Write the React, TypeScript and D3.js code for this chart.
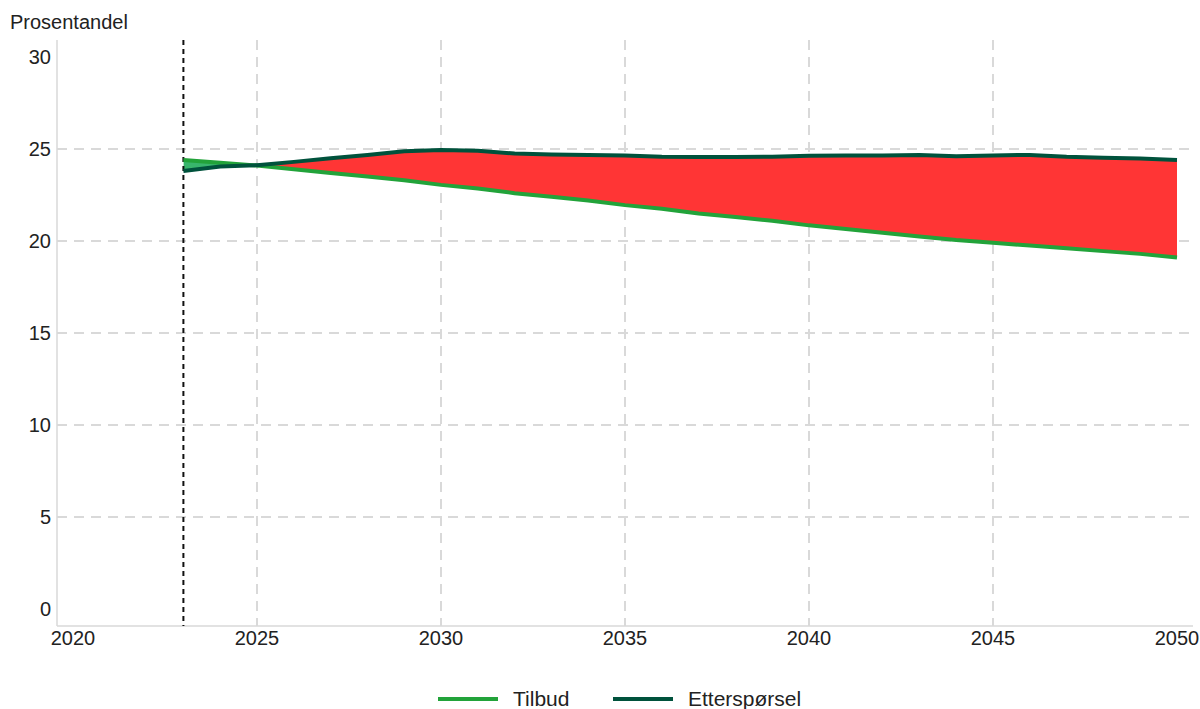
import React from "react";
import * as d3 from "d3";

const years = [2023, 2024, 2025, 2026, 2027, 2028, 2029, 2030, 2031, 2032, 2033, 2034, 2035, 2036, 2037, 2038, 2039, 2040, 2041, 2042, 2043, 2044, 2045, 2046, 2047, 2048, 2049, 2050];
const tilbud = [24.4, 24.25, 24.1, 23.9, 23.7, 23.5, 23.3, 23.05, 22.85, 22.6, 22.4, 22.2, 21.95, 21.75, 21.5, 21.3, 21.1, 20.85, 20.65, 20.45, 20.25, 20.05, 19.9, 19.75, 19.6, 19.45, 19.3, 19.1];
const ettersporsel = [23.8, 24.05, 24.12, 24.3, 24.5, 24.67, 24.88, 24.95, 24.9, 24.75, 24.7, 24.68, 24.65, 24.58, 24.57, 24.57, 24.58, 24.63, 24.65, 24.65, 24.68, 24.6, 24.65, 24.68, 24.58, 24.53, 24.48, 24.4];
const xTicks = [2020, 2025, 2030, 2035, 2040, 2045, 2050];
const yTicks = [0, 5, 10, 15, 20, 25, 30];
const xGrid = [2025, 2030, 2035, 2040, 2045];
const yGrid = [5, 10, 15, 20, 25];
const forecastStart = 2023;
const seriesNames = ["Tilbud", "Etterspørsel"];
const yTitle = "Prosentandel";

const W = 1200;
const H = 709;
const plotLeft = 57;
const plotRight = 1193;
const plotTop = 40;
const plotBottom = 626;

const C_SUPPLY = "#22a33a";
const C_DEMAND = "#00523c";
const C_RED = "#ff3535";
const C_GREENFILL = "#38b56c";
const C_GRID = "#d9d9d9";
const FONT = "'Liberation Sans', Arial, Helvetica, sans-serif";

export default function App() {
  const x = d3.scaleLinear().domain([2020, 2050]).range([73, 1177]);
  const y = d3.scaleLinear().domain([0, 30]).range([609, 57]);

  const data = years.map((yr, i) => ({ yr, s: tilbud[i], d: ettersporsel[i] }));

  const lineS = d3.line<any>().x((p) => x(p.yr)).y((p) => y(p.s))(data) || "";
  const lineD = d3.line<any>().x((p) => x(p.yr)).y((p) => y(p.d))(data) || "";

  const aboveSupply = d3.area<any>().x((p) => x(p.yr)).y0(0).y1((p) => y(p.s))(data) || "";
  const aboveDemand = d3.area<any>().x((p) => x(p.yr)).y0(0).y1((p) => y(p.d))(data) || "";
  const belowDemand = d3.area<any>().x((p) => x(p.yr)).y0(H).y1((p) => y(p.d))(data) || "";
  const belowSupply = d3.area<any>().x((p) => x(p.yr)).y0(H).y1((p) => y(p.s))(data) || "";

  return (
    <svg width={W} height={H} style={{ display: "block", position: "absolute", left: 0, top: 0 }} fontFamily={FONT}>
      <defs>
        <clipPath id="clipAboveSupply">
          <path d={aboveSupply} />
        </clipPath>
        <clipPath id="clipAboveDemand">
          <path d={aboveDemand} />
        </clipPath>
      </defs>
      <rect x={0} y={0} width={W} height={H} fill="#fff" />

      {yGrid.map((v) => (
        <line key={"yg" + v} x1={plotLeft} x2={plotRight} y1={y(v)} y2={y(v)} stroke={C_GRID} strokeWidth={2} strokeDasharray="10,7" />
      ))}
      {xGrid.map((v) => (
        <line key={"xg" + v} x1={x(v)} x2={x(v)} y1={plotTop} y2={plotBottom} stroke={C_GRID} strokeWidth={2} strokeDasharray="10,7" />
      ))}

      <line x1={plotLeft} x2={plotLeft} y1={plotTop} y2={plotBottom} stroke={C_GRID} strokeWidth={1.5} />
      <line x1={plotLeft} x2={plotRight} y1={plotBottom} y2={plotBottom} stroke={C_GRID} strokeWidth={1.5} />

      <path d={belowDemand} fill={C_RED} clipPath="url(#clipAboveSupply)" />
      <path d={belowSupply} fill={C_GREENFILL} clipPath="url(#clipAboveDemand)" />

      <line x1={x(forecastStart)} x2={x(forecastStart)} y1={plotTop} y2={plotBottom} stroke="#111" strokeWidth={2} strokeDasharray="5,4" />

      <path d={lineS} fill="none" stroke={C_SUPPLY} strokeWidth={4} />
      <path d={lineD} fill="none" stroke={C_DEMAND} strokeWidth={4} />

      {yTicks.map((v) => (
        <text key={"yt" + v} x={51} y={y(v)} dy="0.35em" textAnchor="end" fontSize={20} fill="#222">{v}</text>
      ))}
      {xTicks.map((v) => (
        <text key={"xt" + v} x={x(v)} y={645} textAnchor="middle" fontSize={20} fill="#222">{v}</text>
      ))}
      <text x={10} y={29} fontSize={20} fill="#222">{yTitle}</text>

      <line x1={438} x2={498} y1={699} y2={699} stroke={C_SUPPLY} strokeWidth={4} />
      <text x={513} y={706} fontSize={21} fill="#222">{seriesNames[0]}</text>
      <line x1={613} x2={673} y1={699} y2={699} stroke={C_DEMAND} strokeWidth={4} />
      <text x={688} y={706} fontSize={21} fill="#222">{seriesNames[1]}</text>
    </svg>
  );
}
